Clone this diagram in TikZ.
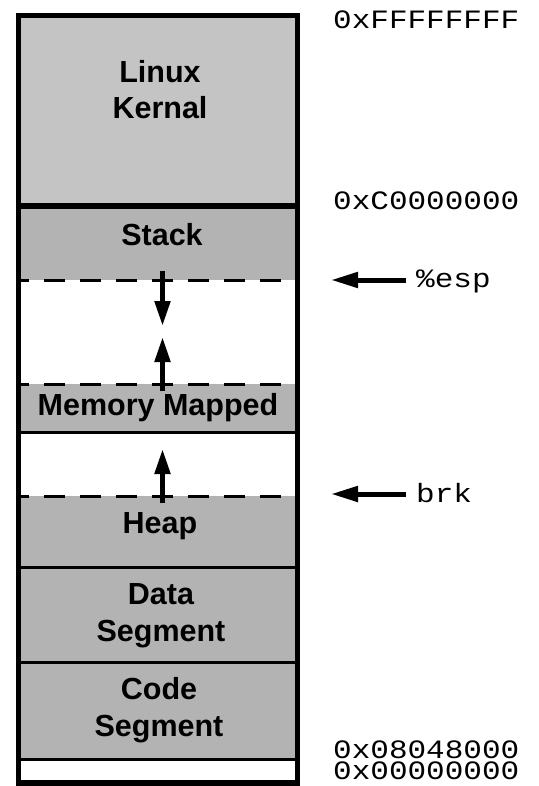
\documentclass[tikz,border=0pt]{standalone}
\usepackage{fontspec}
\setmainfont{Liberation Sans}
\newfontfamily\monof[FakeStretch=1.17]{Liberation Mono}
\usetikzlibrary{arrows.meta}
\definecolor{segray}{RGB}{179,179,179}
\definecolor{kgray}{RGB}{196,196,196}
\begin{document}
\begin{tikzpicture}[x=1pt,y=-1pt,
 lab/.style={font=\fontsize{30.5}{36}\selectfont\bfseries, inner sep=0pt, anchor=base},
 addr/.style={font=\monof\fontsize{26.5}{26.5}\selectfont, inner sep=0pt, anchor=base west},
 solidsep/.style={line width=3pt},
 dashsep/.style={line width=3pt, dash pattern=on 21pt off 15pt, dash phase=13pt},
 growarrow/.style={line width=5pt, -{Triangle[length=25pt,width=15pt]}},
 ptrarrow/.style={line width=5pt, -{Triangle[length=27pt,width=15pt]}},
]
\useasboundingbox (0,0) rectangle (538,786);
% fills
\fill[kgray] (18.5,15.5) rectangle (297.5,206);
\fill[segray] (18.5,206) rectangle (297.5,280);
\fill[segray] (18.5,384) rectangle (297.5,432);
\fill[segray] (18.5,496) rectangle (297.5,759);
% separators
\draw[line width=6pt] (18.5,206) -- (297.5,206);
\draw[dashsep] (21,280) -- (295,280);
\draw[dashsep] (21,384) -- (295,384);
\draw[solidsep] (21,432) -- (295,432);
\draw[dashsep] (21,496) -- (295,496);
\draw[solidsep] (21,567.5) -- (295,567.5);
\draw[solidsep] (21,662.5) -- (295,662.5);
\draw[solidsep] (21,759) -- (295,759);
% outer frame
\draw[line width=5.5pt] (18.5,15.5) rectangle (297.5,783);
% growth arrows
\coordinate (s1) at (162.5,271);
\coordinate (t1) at (162.5,326);
\coordinate (s2) at (162.5,391);
\coordinate (t2) at (162.5,337);
\coordinate (s3) at (162.5,503);
\coordinate (t3) at (162.5,449);
\draw[growarrow] (s1) -- (t1);
\draw[growarrow] (s2) -- (t2);
\draw[growarrow] (s3) -- (t3);
% labels
\node[lab] (linux) at (160,83) {Linux};
\node[lab] (kernal) at (160,119) {Kernal};
\node[lab] (stack) at (162,245) {Stack};
\node[lab] (mmap) at (158,415) {Memory Mapped};
\node[lab] (heap) at (160,533) {Heap};
\node[lab] (data) at (161,604) {Data};
\node[lab] (dseg) at (161,641) {Segment};
\node[lab] (code) at (159,699) {Code};
\node[lab] (cseg) at (159,736) {Segment};
% addresses
\node[addr] (aTop) at (333,28.5) {0xFFFFFFFF};
\node[addr] (aKern) at (333,210) {0xC0000000};
\node[addr] (aCode) at (333,758.5) {0x08048000};
\node[addr] (aZero) at (333,779) {0x00000000};
% pointers
\node[addr] (esp) at (416,287) {\%esp};
\node[addr] (brk) at (416,502) {brk};
\coordinate (espTip) at (331,280);
\coordinate (brkTip) at (331,494);
\draw[ptrarrow] (esp.west |- espTip) ++(-10,0) -- (espTip);
\draw[ptrarrow] (brk.west |- brkTip) ++(-10,0) -- (brkTip);
\end{tikzpicture}
\end{document}
